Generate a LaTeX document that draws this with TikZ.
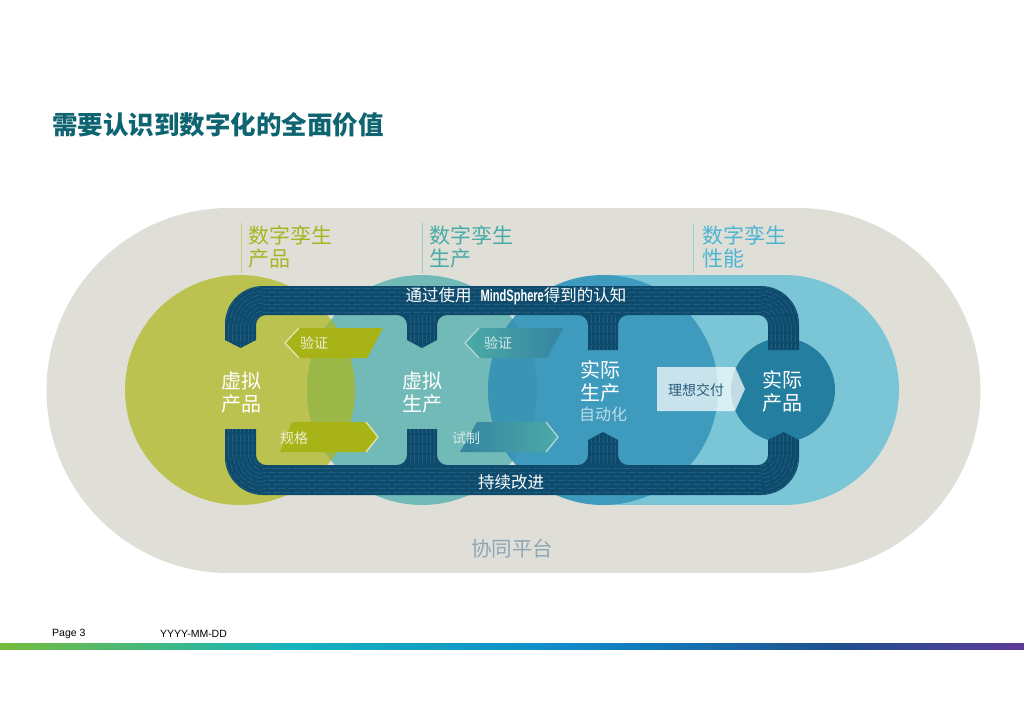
\documentclass[tikz,border=0pt]{standalone}
\usepackage{fontspec}
\setmainfont{Liberation Sans}
\newfontfamily\cjk{Noto Sans CJK SC}
\usepackage{tikz}

\definecolor{stadium}{HTML}{DFDFD8}
\definecolor{olivec}{HTML}{BCC24F}
\definecolor{olivelens}{HTML}{9BB748}
\definecolor{tealc}{HTML}{72BAB7}
\definecolor{bluec}{HTML}{3F9BBD}
\definecolor{bluelens}{HTML}{3A94B4}
\definecolor{skyc}{HTML}{7BC6D6}
\definecolor{deepc}{HTML}{247E9F}
\definecolor{bandc}{HTML}{0D4A6B}
\definecolor{bandtex}{HTML}{1F5C7D}
\definecolor{titlec}{HTML}{0E6571}
\definecolor{olivetxt}{HTML}{A9B422}
\definecolor{tealtxt}{HTML}{4BAAA6}
\definecolor{skytxt}{HTML}{4DB5D2}
\definecolor{arrowol}{HTML}{A8B318}
\definecolor{platc}{HTML}{8FA6B6}
\definecolor{delivc}{HTML}{2A5C7C}
\definecolor{barA}{HTML}{74BC3C}
\definecolor{barB}{HTML}{16B4BE}
\definecolor{barC}{HTML}{0E8ACA}
\definecolor{barD}{HTML}{1F4F8E}
\definecolor{barE}{HTML}{5E3A9C}

\begin{document}
\begin{tikzpicture}[x=1pt,y=-1pt,
  lbl/.style={font=\cjk\fontsize{20}{23}\selectfont,text=white,align=center,inner sep=0pt},
  head/.style={font=\cjk\fontsize{21}{23}\selectfont,align=left,anchor=west,inner sep=0pt},
  bandtxt/.style={font=\cjk\fontsize{16.5}{18}\selectfont,text=white,inner sep=0pt},
  small/.style={font=\cjk\fontsize{14}{16}\selectfont,inner sep=0pt},
  chev/.style={line width=1.3pt},
  tex/.style={bandtex,line width=0.9pt,dash pattern=on 8pt off 2pt},
  texture/.style={path picture={
      \foreach \yy in {288,296,304,312,468,476,484,492} \draw[tex] (263,\yy) -- (761,\yy);
      \foreach \yy in {292,300,308,472,480,488} \draw[tex,dash phase=5pt] (263,\yy) -- (761,\yy);
      \foreach \xx in {228,232,...,252,771,775,...,795} \draw[tex] (\xx,324) -- (\xx,457);
      \foreach \xx in {410,414,...,434,591,595,...,615} \draw[tex] (\xx,315) -- (\xx,465);
      \foreach \cx/\cy/\dx/\dy in {263/324/-70/-80,761/324/70/-80,263/457/-70/70,761/457/70/70}{
        \begin{scope}
          \clip (\cx,\cy) rectangle ++(\dx,\dy);
          \foreach \r in {9,13,...,37} \draw[tex] (\cx,\cy) circle[radius=\r pt];
        \end{scope}}}}]

  \path[use as bounding box,fill=white] (0,0) rectangle (1024,724);

  \node[anchor=west,font=\cjk\bfseries\fontsize{25.5}{28}\selectfont,text=titlec,inner sep=0pt] (title) at (52,125) {需要认识到数字化的全面价值};

  % platform
  \fill[stadium] (229,390.5) circle[radius=182.5pt] (798,390.5) circle[radius=182.5pt];
  \fill[stadium] (229,208) rectangle (798,573);

  % twins
  \fill[skyc] (784,390) circle[radius=115pt];
  \fill[skyc] (600,275) rectangle (784,505);
  \fill[olivec] (240,390) circle[radius=115pt];
  \fill[tealc] (422,390) circle[radius=115pt];
  \begin{scope}
    \clip (240,390) circle[radius=115pt];
    \fill[olivelens] (422,390) circle[radius=115pt];
  \end{scope}
  \fill[bluec] (603,390) circle[radius=115pt];
  \begin{scope}
    \clip (422,390) circle[radius=115pt];
    \fill[bluelens] (603,390) circle[radius=115pt];
  \end{scope}
  \fill[deepc] (783,390) circle[radius=52pt];

  % loop
  \fill[bandc,texture] (225,340) [rounded corners=38pt] -- (225,286) -- (799,286)
    [sharp corners] -- (799,350) -- (768,350)
    [rounded corners=10pt] -- (768,315) -- (618,315)
    [sharp corners] -- (618,350) -- (588,350)
    [rounded corners=10pt] -- (588,315) -- (437,315)
    [sharp corners] -- (437,340) -- (422,348) -- (407,340)
    [rounded corners=10pt] -- (407,315) -- (256,315)
    [sharp corners] -- (256,340) -- (240.5,348) -- cycle;
  \fill[bandc,texture] (225,429) -- (256,429)
    [rounded corners=10pt] -- (256,465) -- (407,465)
    [sharp corners] -- (407,429) -- (437,429)
    [rounded corners=10pt] -- (437,465) -- (588,465)
    [sharp corners] -- (588,440) -- (603,432) -- (618,440)
    [rounded corners=10pt] -- (618,465) -- (768,465)
    [sharp corners] -- (768,440) -- (783.5,432) -- (799,440)
    [rounded corners=38pt] -- (799,495) -- (225,495)
    [sharp corners] -- cycle;

  % steps
  \fill[arrowol] (299,328) -- (383,328) -- (367,358) -- (299,358) -- (285,343) -- cycle;
  \draw[chev,olivetxt!35!white] (299,328) -- (285,343) -- (299,358);
  \fill[arrowol] (292,422) -- (366,422) -- (378,437) -- (366,452) -- (280,452) -- cycle;
  \draw[chev,olivetxt!35!white] (366,422) -- (378,437) -- (366,452);
  \path[left color=tealtxt,right color=bluec!85!black] (479,328) -- (563,328) -- (547,358) -- (479,358) -- (465,343) -- cycle;
  \draw[chev,tealtxt!45!white] (479,328) -- (465,343) -- (479,358);
  \path[left color=bluec!85!black,right color=tealtxt] (477,422) -- (546,422) -- (558,437) -- (546,452) -- (460,452) -- cycle;
  \draw[chev,tealtxt!45!white] (546,422) -- (558,437) -- (546,452);
  \fill[white,opacity=0.72] (657,367) -- (735,367) -- (745,389) -- (735,411) -- (657,411) -- cycle;

  \node[small,text=olivetxt!20!white] (chk1) at (314,343) {验证};
  \node[small,text=olivetxt!20!white] (spec) at (294,438) {规格};
  \node[small,text=tealtxt!25!white] (chk2) at (498,343) {验证};
  \node[small,text=tealtxt!25!white] (trial) at (466,438) {试制};
  \node[small,text=delivc] (deliv) at (696,390) {理想交付};

  % circle texts
  \node[lbl] (vprod) at (241,392) {虚拟\\产品};
  \node[lbl] (vmfg) at (422,392) {虚拟\\生产};
  \node[lbl] (rmfg) at (600,381) {实际\\生产};
  \node[lbl,font=\cjk\fontsize{16}{18}\selectfont,text=bluec!35!white] (auto) at (603,414) {自动化};
  \node[lbl] (rprod) at (782,391) {实际\\产品};

  \node[bandtxt] (insight) at (516,296) {通过使用\hspace{9pt}{\rmfamily\bfseries\scalebox{0.67}[1]{MindSphere}}得到的认知};
  \node[bandtxt] (improve) at (511,482) {持续改进};
  \node[font=\cjk\fontsize{20.5}{22}\selectfont,text=platc,inner sep=0pt] (plat) at (512,549) {协同平台};

  % twin headers
  \draw[olivetxt!45!stadium,line width=1pt] (241,223) -- (241,273);
  \draw[tealtxt!45!stadium,line width=1pt] (422,223) -- (422,273);
  \draw[skytxt!45!stadium,line width=1pt] (693,223) -- (693,273);
  \node[head,text=olivetxt] (hprod) at (248,247) {数字孪生\\产品};
  \node[head,text=tealtxt] (hmfg) at (429,247) {数字孪生\\生产};
  \node[head,text=skytxt] (hperf) at (702,247) {数字孪生\\性能};

  % footer
  \node[anchor=west,font=\fontsize{10.5}{12}\selectfont,inner sep=0pt] (page) at (52,634) {Page 3};
  \node[anchor=west,font=\fontsize{10.5}{12}\selectfont,inner sep=0pt] (date) at (160,634) {YYYY-MM-DD};
  \shade[left color=barA,right color=barB] (0,643) rectangle (290,649);
  \shade[left color=barB,right color=barC] (290,643) rectangle (570,649);
  \shade[left color=barC,right color=barD] (570,643) rectangle (840,649);
  \shade[left color=barD,right color=barE] (840,643) rectangle (1024,649);
\end{tikzpicture}
\end{document}
